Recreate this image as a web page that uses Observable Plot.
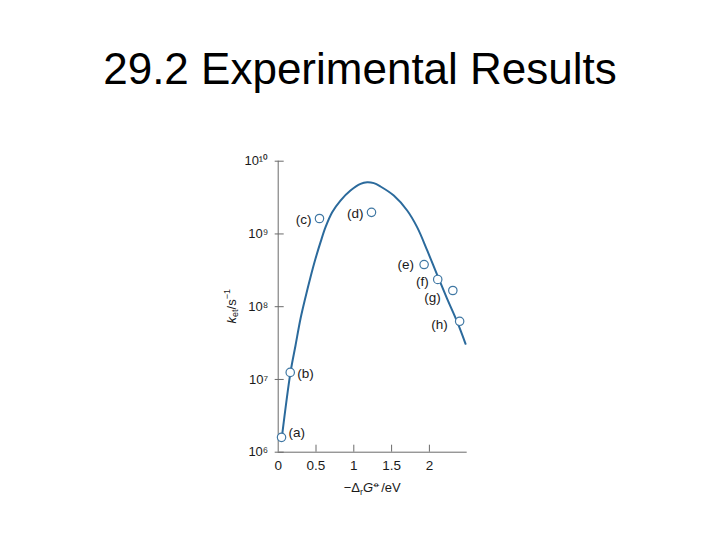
<!DOCTYPE html>
<html><head><meta charset="utf-8">
<script src="https://cdn.jsdelivr.net/npm/d3@7"></script>
<script src="https://cdn.jsdelivr.net/npm/@observablehq/plot@0.6"></script>
<style>
html,body{margin:0;padding:0;background:#fff;}
body{width:720px;height:540px;overflow:hidden;font-family:"Liberation Sans",Arial,sans-serif;}
#title{box-sizing:border-box;height:110px;padding-top:44px;text-align:center;font-size:44px;line-height:1.15;color:#000;}
#chart svg{display:block;}
</style></head><body>
<div id="title">29.2 Experimental Results</div>
<div id="chart"></div>
<script>
// Measured points: driving force -ΔrG⦵ (eV) and rate constant k_et (s^-1)
const pointLabels = ["(a)", "(b)", "(c)", "(d)", "(e)", "(f)", "(g)", "(h)"];
const pointX = [0.044, 0.159, 0.546, 1.234, 1.93, 2.11, 2.31, 2.40];
const pointK = [1.6e6, 1.25e7, 1.63e9, 1.98e9, 3.8e8, 2.37e8, 1.67e8, 6.3e7];

// Theoretical (Marcus) curve
const curveX = [0.048, 0.163, 0.229, 0.295, 0.361, 0.427, 0.493, 0.560, 0.626, 0.714, 0.824, 0.956, 1.089, 1.177, 1.265, 1.353, 1.529, 1.706, 1.839, 1.971, 2.103, 2.235, 2.368, 2.478];
const curveK = [1.59e6, 1.26e7, 2.93e7, 6.82e7, 1.35e8, 2.54e8, 4.55e8, 7.71e8, 1.24e9, 1.99e9, 2.88e9, 3.95e9, 4.89e9, 5.14e9, 4.99e9, 4.49e9, 3.37e9, 2.10e9, 1.23e9, 5.93e8, 2.73e8, 1.28e8, 6.17e7, 3.09e7];

// Axis ticks
const xTicks = [0, 0.5, 1, 1.5, 2];
const xTickLabels = ["0", "0.5", "1", "1.5", "2"];
const yTicks = [1e6, 1e7, 1e8, 1e9, 1e10];
const yTickLabels = ["10\u2076", "10\u2077", "10\u2078", "10\u2079", "10\u00b9\u2070"];

const points = pointLabels.map((label, i) => ({label, x: pointX[i], k: pointK[i]}));
const curve = curveX.map((x, i) => ({x, k: curveK[i]}));

// label placement styles
const labelStyle = {
  "(a)": {dx: 7, dy: -5, anchor: "start"},
  "(b)": {dx: 7, dy: 1, anchor: "start"},
  "(c)": {dx: -8, dy: 1, anchor: "end"},
  "(d)": {dx: -8, dy: 1, anchor: "end"},
  "(e)": {dx: -10, dy: 0, anchor: "end"},
  "(f)": {dx: -9, dy: 2, anchor: "end"},
  "(g)": {dx: -12, dy: 7, anchor: "end"},
  "(h)": {dx: -12, dy: 3, anchor: "end"}
};

const W = 720, H = 430;
const mL = 277.7, mR = 253.3, mT = 50.7, mB = 88.3;
const frameW = W - mL - mR, frameH = H - mT - mB;
const axisColor = "#6b6b6b";
const lineColor = "#2b6a9c";
const dotColor = "#3f77a3";

const labelMarks = points.map(p => {
  const s = labelStyle[p.label];
  return Plot.text([p], {x: "x", y: "k", text: "label", dx: s.dx, dy: s.dy, textAnchor: s.anchor, fontSize: 13.5, fill: "#1a1a1a"});
});

const chart = Plot.plot({
  width: W, height: H,
  marginLeft: mL, marginRight: mR, marginTop: mT, marginBottom: mB,
  style: {fontFamily: "'Liberation Sans', Arial, sans-serif", background: "#fff", color: "#1a1a1a"},
  x: {domain: [0, 2.5]},
  y: {type: "log", domain: [1e6, 1e10]},
  marks: [
    Plot.ruleX([0], {stroke: axisColor, strokeWidth: 1}),
    Plot.ruleY([1e6], {stroke: axisColor, strokeWidth: 1}),
    Plot.tickY(yTicks, {y: d => d, insetLeft: -3, insetRight: frameW - 6, stroke: axisColor}),
    Plot.tickX(xTicks.slice(1), {x: d => d, insetTop: frameH - 7, stroke: axisColor}),
    Plot.axisY({ticks: yTicks, tickSize: 0, tickPadding: 10, fontSize: 13, label: null,
      tickFormat: d => yTickLabels[yTicks.indexOf(d)]}),
    Plot.axisX({ticks: xTicks, tickSize: 0, tickPadding: 8, fontSize: 13.5, label: null,
      tickFormat: d => xTickLabels[xTicks.indexOf(d)]}),
    Plot.line(curve, {x: "x", y: "k", stroke: lineColor, strokeWidth: 2, curve: "catmull-rom"}),
    Plot.dot(points, {x: "x", y: "k", r: 4.2, fill: "#fff", stroke: dotColor, strokeWidth: 1.2}),
    ...labelMarks
  ]
});
document.getElementById("chart").appendChild(chart);

// axis titles with italic / sub- and superscripts
const svg = d3.select(chart);
const yl = svg.append("text")
  .attr("transform", `translate(${mL - 45},${mT + frameH / 2}) rotate(-90)`)
  .attr("text-anchor", "middle")
  .attr("dominant-baseline", "middle")
  .attr("font-size", 13)
  .attr("fill", "#1a1a1a");
yl.append("tspan").attr("font-style", "italic").text("k");
yl.append("tspan").attr("font-size", 9).attr("dy", 3).text("et");
yl.append("tspan").attr("dy", -3).text("/s");
yl.append("tspan").attr("font-size", 9).attr("dy", -5).text("\u22121");

const xl = svg.append("text")
  .attr("x", mL + frameW / 2)
  .attr("y", H - mB + 40)
  .attr("text-anchor", "middle")
  .attr("font-size", 13)
  .attr("fill", "#1a1a1a");
xl.append("tspan").text("\u2212\u0394");
xl.append("tspan").attr("font-size", 9).attr("dy", 3).text("r");
xl.append("tspan").attr("font-style", "italic").attr("dy", -3).text("G");
xl.append("tspan").attr("font-size", 9).attr("dy", -5).text("\u29b5");
xl.append("tspan").attr("dy", 5).text("/eV");
</script></body></html>
